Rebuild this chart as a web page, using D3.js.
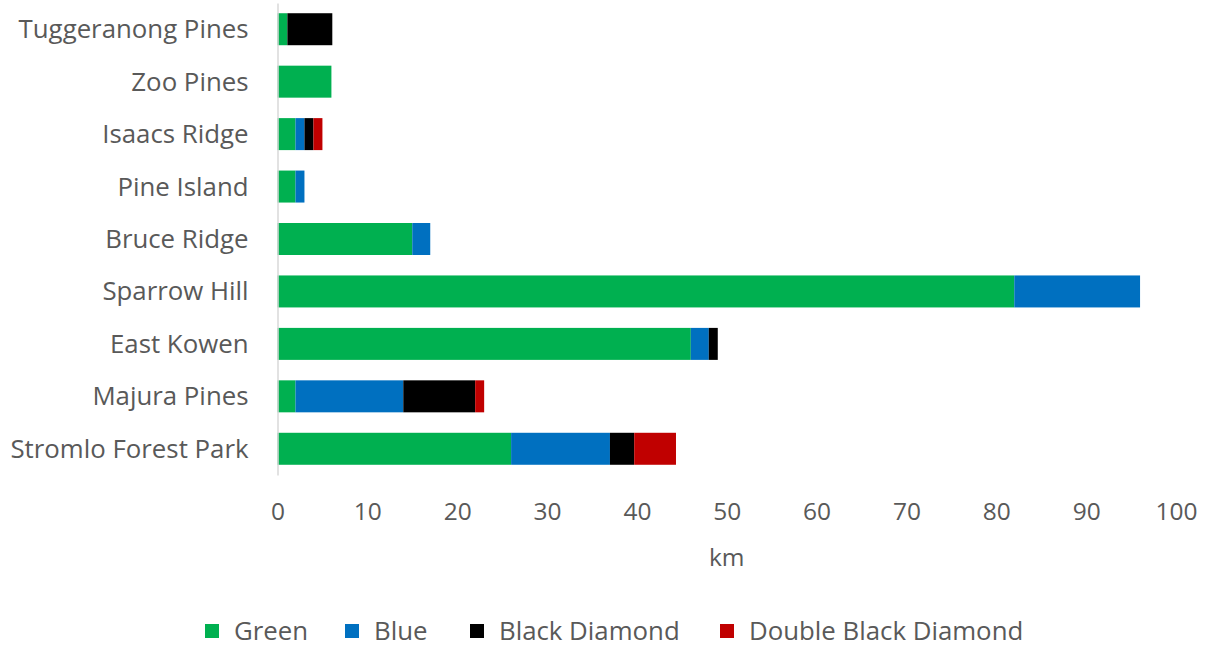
<!DOCTYPE html>
<html>
<head>
<meta charset="utf-8">
<script src="https://cdn.jsdelivr.net/npm/d3@7"></script>
<style>
  html, body { margin: 0; padding: 0; background: #fff; }
  svg text { font-family: "Open Sans", Lato, sans-serif; fill: #595959; }
</style>
</head>
<body>
<svg id="chart" width="1209" height="645"></svg>
<script>
// Trail lengths (km) by difficulty grade for each Canberra riding area
const parks = ["Tuggeranong Pines", "Zoo Pines", "Isaacs Ridge", "Pine Island", "Bruce Ridge",
               "Sparrow Hill", "East Kowen", "Majura Pines", "Stromlo Forest Park"];
const green        = [1.1, 6, 2, 2, 15, 82, 46, 2, 26];
const blue         = [0, 0, 1, 1, 2, 14, 2, 12, 11];
const blackDiamond = [5, 0, 1, 0, 0, 0, 1, 8, 2.7];
const doubleBlack  = [0, 0, 1, 0, 0, 0, 0, 1, 4.65];
const seriesNames  = ["Green", "Blue", "Black Diamond", "Double Black Diamond"];
const seriesColors = ["#00B050", "#0070C0", "#000000", "#C00000"];
const xTicks = [0, 10, 20, 30, 40, 50, 60, 70, 80, 90, 100];

const rows = parks.map((p, i) => ({
  park: p,
  "Green": green[i],
  "Blue": blue[i],
  "Black Diamond": blackDiamond[i],
  "Double Black Diamond": doubleBlack[i]
}));

const svg = d3.select("#chart");
const margin = { left: 277.5, right: 33, top: 3, bottom: 170 };
const W = 1209, H = 645;

const x = d3.scaleLinear().domain([0, 100]).range([margin.left, W - margin.right]);
const y = d3.scaleBand().domain(parks).range([margin.top, H - margin.bottom]).paddingInner(0.39).paddingOuter(0.195);

const stack = d3.stack().keys(seriesNames)(rows);
const color = d3.scaleOrdinal().domain(seriesNames).range(seriesColors);

// stacked bars
svg.append("g").selectAll("g")
  .data(stack)
  .join("g")
  .attr("fill", d => color(d.key))
  .selectAll("rect")
  .data(d => d.filter(s => s[1] - s[0] > 0))
  .join("rect")
  .attr("x", d => x(d[0]))
  .attr("y", d => y(d.data.park))
  .attr("width", d => x(d[1]) - x(d[0]))
  .attr("height", y.bandwidth());

// category axis
const yAxis = svg.append("g")
  .attr("transform", `translate(${margin.left},0)`)
  .call(d3.axisLeft(y).tickSize(0).tickPadding(29));
yAxis.select(".domain").attr("stroke", "#d9d9d9").attr("stroke-width", 1.5);
yAxis.selectAll("text").style("font-size", "25.8px").attr("dy", "0.35em");

// value axis (labels only)
const xAxis = svg.append("g")
  .attr("transform", `translate(0,${H - margin.bottom})`)
  .call(d3.axisBottom(x).tickValues(xTicks).tickSize(0).tickPadding(28));
xAxis.select(".domain").remove();
xAxis.selectAll("text").style("font-size", "24.5px");

svg.append("text")
  .attr("x", x(50)).attr("y", 566)
  .attr("text-anchor", "middle")
  .style("font-size", "24.5px")
  .text("km");

// legend
const legendX = [205, 345, 470, 720];
const legend = svg.append("g").selectAll("g")
  .data(seriesNames)
  .join("g")
  .attr("transform", (d, i) => `translate(${legendX[i]},631)`);
legend.append("rect")
  .attr("x", 0).attr("y", -7).attr("width", 14).attr("height", 14)
  .attr("fill", d => color(d));
legend.append("text")
  .attr("x", 29).attr("y", 0).attr("dy", "0.35em")
  .style("font-size", "25.8px")
  .text(d => d);
</script>
</body>
</html>
